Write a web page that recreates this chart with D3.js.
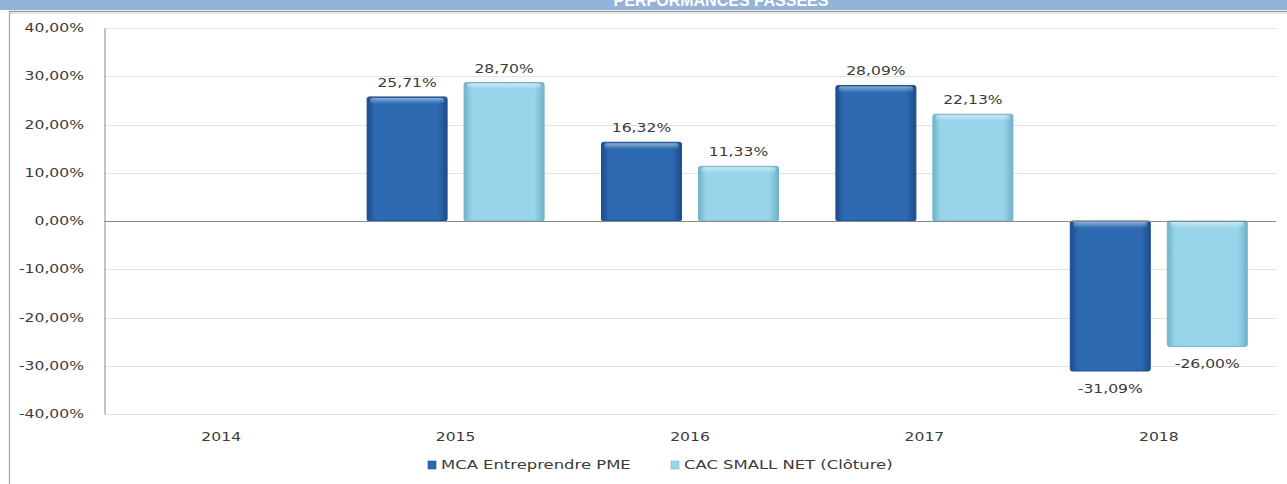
<!DOCTYPE html>
<html>
<head>
<meta charset="utf-8">
<script src="https://cdn.jsdelivr.net/npm/d3@7"></script>
<style>
  html, body { margin: 0; padding: 0; background: #ffffff; }
  svg { display: block; }
</style>
</head>
<body>
<svg id="chart" width="1287" height="484"></svg>
<script>
// ---- data ----
const categories = ["2014", "2015", "2016", "2017", "2018"];
const seriesNames = ["MCA Entreprendre PME", "CAC SMALL NET (Clôture)"];
const mcaValues = [null, 25.71, 16.32, 28.09, -31.09];
const cacValues = [null, 28.70, 11.33, 22.13, -26.00];
const yTicks = [-40, -30, -20, -10, 0, 10, 20, 30, 40];
const titleText = "PERFORMANCES PASSÉES";

// ---- layout ----
const W = 1287, H = 484;
const plotLeft = 104, plotRight = 1276, plotTop = 28, plotBottom = 414;
const stretch = 1.3;
const textColor = "#3a3a3a";
const fontFam = "'DejaVu Sans', Verdana, sans-serif";

const svg = d3.select("#chart");
const defs = svg.append("defs");

function gradient(id, edge, mid) {
  const g = defs.append("linearGradient").attr("id", id)
    .attr("x1", "0%").attr("x2", "100%").attr("y1", "0%").attr("y2", "0%");
  g.append("stop").attr("offset", "0%").attr("stop-color", edge);
  g.append("stop").attr("offset", "10%").attr("stop-color", mid);
  g.append("stop").attr("offset", "88%").attr("stop-color", mid);
  g.append("stop").attr("offset", "100%").attr("stop-color", edge);
}
gradient("gDark", "#1d4c8a", "#2d6ab2");
gradient("gLight", "#6fb2c9", "#98d5ea");
const vg = defs.append("linearGradient").attr("id", "gShine")
  .attr("x1", "0%").attr("x2", "0%").attr("y1", "0%").attr("y2", "100%");
vg.append("stop").attr("offset", "0%").attr("stop-color", "#ffffff").attr("stop-opacity", 0.45);
vg.append("stop").attr("offset", "100%").attr("stop-color", "#ffffff").attr("stop-opacity", 0);

const fills = ["url(#gDark)", "url(#gLight)"];
const strokes = ["#1e4f8f", "#74b4ca"];
const swatch = ["#2d6ab2", "#98d5ea"];

// ---- banner & frame ----
svg.append("rect").attr("x", 0).attr("y", 0).attr("width", W).attr("height", 10).attr("fill", "#95b3d7");
svg.append("text").attr("x", 721).attr("y", 5.5).attr("text-anchor", "middle")
  .attr("font-family", "'Liberation Sans', Arial, sans-serif").attr("font-weight", "bold")
  .attr("font-size", 16).attr("fill", "#ffffff").text(titleText);
svg.append("line").attr("x1", 9).attr("x2", W).attr("y1", 11.5).attr("y2", 11.5)
  .attr("stroke", "#9a9a9a").attr("stroke-width", 1.5);
svg.append("line").attr("x1", 9).attr("x2", W).attr("y1", 13.5).attr("y2", 13.5)
  .attr("stroke", "#e4e4e4").attr("stroke-width", 1);
svg.append("line").attr("x1", 9.5).attr("x2", 9.5).attr("y1", 11).attr("y2", H)
  .attr("stroke", "#a5a5a5").attr("stroke-width", 1.2);

// ---- scales ----
const y = d3.scaleLinear().domain([-40, 40]).range([plotBottom, plotTop]);
const x0 = d3.scaleBand().domain(categories).range([plotLeft, plotRight]).padding(0);
const groupW = 177;
const x1 = d3.scaleBand().domain([0, 1]).range([0, groupW]).paddingInner(17 / 97).paddingOuter(0);
const groupOff = (x0.bandwidth() - groupW) / 2;

function sText(sel, x, yy, anchor, str, size, sx) {
  return sel.append("text")
    .attr("transform", `translate(${x},${yy}) scale(${sx || stretch},1)`)
    .attr("text-anchor", anchor)
    .attr("font-family", fontFam).attr("font-size", size || 12)
    .attr("fill", textColor).text(str);
}

// ---- gridlines ----
const grid = svg.append("g");
grid.selectAll("line").data(yTicks.filter(t => t !== 0)).join("line")
  .attr("x1", plotLeft).attr("x2", plotRight)
  .attr("y1", d => Math.round(y(d)) + 0.5).attr("y2", d => Math.round(y(d)) + 0.5)
  .attr("stroke", "#e3e3e3").attr("stroke-width", 1);

// ---- y axis ----
const yAxis = d3.axisLeft(y).tickValues(yTicks).tickSize(0).tickFormat(() => "");
const yg = svg.append("g").attr("transform", `translate(${plotLeft + 0.5},0)`).call(yAxis);
yg.select(".domain").attr("stroke", "#8a8a8a");
const fmt = v => d3.format(".2f")(v).replace(".", ",").replace("−", "-") + "%";
yTicks.forEach(t => sText(svg, 84, y(t) + 4, "end", fmt(t)));

// ---- bars ----
const rows = categories.map((c, i) => ({ cat: c, vals: [mcaValues[i], cacValues[i]] }));
const barG = svg.append("g");
rows.forEach(r => {
  r.vals.forEach((v, s) => {
    if (v === null) return;
    const bx = x0(r.cat) + groupOff + x1(s);
    const bw = x1.bandwidth();
    const top = Math.min(y(v), y(0)), h = Math.abs(y(v) - y(0));
    barG.append("rect").attr("x", bx).attr("y", top).attr("width", bw).attr("height", h)
      .attr("rx", 2).attr("fill", fills[s]).attr("stroke", strokes[s]).attr("stroke-width", 1);
    barG.append("rect").attr("x", bx + 3).attr("y", top + 1).attr("width", bw - 6).attr("height", Math.min(6, h))
      .attr("rx", 2).attr("fill", "url(#gShine)");
    const lx = bx + bw / 2;
    const ly = v >= 0 ? y(v) - 10 : y(v) + 22;
    sText(svg, lx, ly, "middle", fmt(v));
  });
});

// ---- zero line ----
svg.append("line").attr("x1", plotLeft).attr("x2", plotRight)
  .attr("y1", Math.round(y(0)) + 0.5).attr("y2", Math.round(y(0)) + 0.5)
  .attr("stroke", "#8a8a8a").attr("stroke-width", 1);

// ---- x axis labels ----
const xAxis = d3.axisBottom(x0).tickSize(0).tickFormat(() => "");
const xg = svg.append("g").attr("transform", `translate(0,${plotBottom})`).call(xAxis);
xg.select(".domain").remove();
categories.forEach(c => sText(svg, x0(c) + x0.bandwidth() / 2, 441, "middle", c));

// ---- legend ----
const legendX = [428, 671];
seriesNames.forEach((n, s) => {
  svg.append("rect").attr("x", legendX[s]).attr("y", 461).attr("width", 8).attr("height", 8)
    .attr("fill", swatch[s]).attr("stroke", strokes[s]).attr("stroke-width", 0.6);
  sText(svg, legendX[s] + 13, 469, "start", n, 12, 1.37);
});
</script>
</body>
</html>
